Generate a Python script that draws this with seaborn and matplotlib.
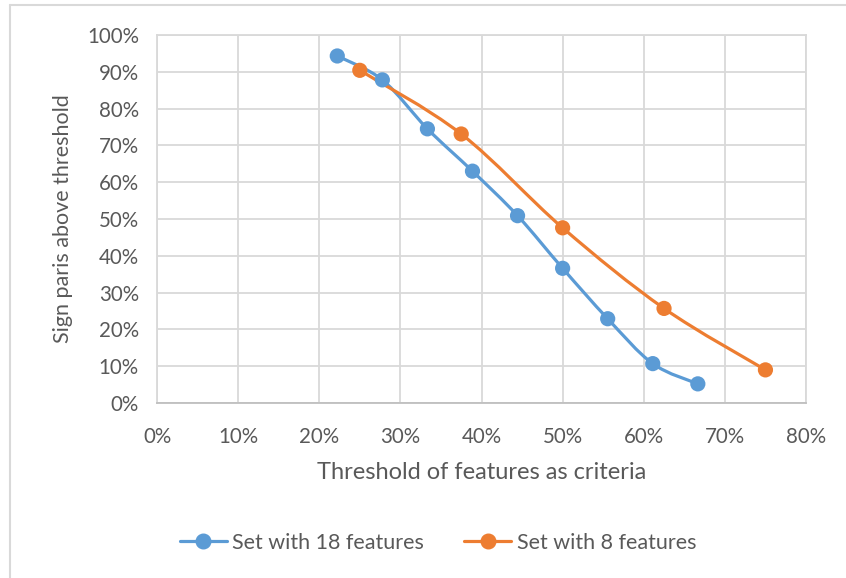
import numpy as np
import pandas as pd
import seaborn as sns
import matplotlib.pyplot as plt
from matplotlib.path import Path
from matplotlib.patches import PathPatch
from matplotlib.lines import Line2D
from matplotlib.ticker import PercentFormatter

# Data
x18 = [4/18, 5/18, 6/18, 7/18, 8/18, 9/18, 10/18, 11/18, 12/18]
y18 = [0.943, 0.878, 0.745, 0.630, 0.509, 0.366, 0.229, 0.107, 0.052]
x8 = [2/8, 3/8, 4/8, 5/8, 6/8]
y8 = [0.904, 0.731, 0.476, 0.257, 0.090]
series_names = ['Set with 18 features', 'Set with 8 features']
colors = ['#5B9BD5', '#ED7D31']

sns.set_theme(style='white')
plt.rcParams['font.family'] = ['Lato', 'DejaVu Sans']

fig = plt.figure(figsize=(8.46, 5.78), dpi=100)
ax = fig.add_axes([157/846, 1-403/578, (806-157)/846, (403-35)/578])

# frame lines around the chart (left and top visible)
fig.add_artist(Line2D([10/846, 10/846], [0, 1-5/578], transform=fig.transFigure, color='#d9d9d9', lw=1.5))
fig.add_artist(Line2D([10/846, 1], [1-5/578, 1-5/578], transform=fig.transFigure, color='#d9d9d9', lw=1.5))


def smooth_path(xs, ys, t=1/6):
    # Bezier path through the points, like Excel's smoothed line
    pts = np.column_stack([xs, ys])
    verts = [pts[0]]
    codes = [Path.MOVETO]
    n = len(pts)
    for i in range(n - 1):
        p0 = pts[i - 1] if i > 0 else pts[i]
        p1 = pts[i]
        p2 = pts[i + 1]
        p3 = pts[i + 2] if i + 2 < n else pts[i + 1]
        c1 = p1 + (p2 - p0) * t
        c2 = p2 - (p3 - p1) * t
        verts += [c1, c2, p2]
        codes += [Path.CURVE4] * 3
    return Path(verts, codes)


df = pd.concat([
    pd.DataFrame({'x': x18, 'y': y18, 'set': series_names[0]}),
    pd.DataFrame({'x': x8, 'y': y8, 'set': series_names[1]}),
])

for (xs, ys), c in zip([(x18, y18), (x8, y8)], colors):
    ax.add_patch(PathPatch(smooth_path(xs, ys), facecolor='none', edgecolor=c, lw=2.3, zorder=3))

sns.scatterplot(data=df, x='x', y='y', hue='set', palette=colors, s=120,
                edgecolor='none', ax=ax, zorder=4, legend=False)

ax.set_xlim(0, 0.8)
ax.set_ylim(0, 1.0)
ax.set_xticks(np.arange(0, 0.81, 0.1))
ax.set_yticks(np.arange(0, 1.01, 0.1))
ax.xaxis.set_major_formatter(PercentFormatter(1.0, decimals=0))
ax.yaxis.set_major_formatter(PercentFormatter(1.0, decimals=0))
ax.grid(True, color='#d9d9d9', lw=1.3)
ax.set_axisbelow(True)
for s in ax.spines.values():
    s.set_color('#d9d9d9')
    s.set_linewidth(1.3)
ax.spines['bottom'].set_color('#bfbfbf')
ax.tick_params(axis='both', length=0, labelsize=14.8, colors='#595959')
ax.tick_params(axis='y', pad=13)
ax.tick_params(axis='x', pad=17.5)

ax.set_xlabel('Threshold of features as criteria', fontsize=17, color='#595959', labelpad=10.5)
ax.set_ylabel('Sign paris above threshold', fontsize=15.5, color='#595959', labelpad=10)

handles = [Line2D([0], [0], color=c, lw=2.3, marker='o', markersize=10.5) for c in colors]
fig.legend(handles, series_names, loc='center', bbox_to_anchor=(438/846, 1-543/578),
           ncol=2, frameon=False, fontsize=15.5, labelcolor='#595959',
           handlelength=2.2, handletextpad=0.25, columnspacing=1.85)

fig.savefig('out.png', dpi=100, facecolor='white')
